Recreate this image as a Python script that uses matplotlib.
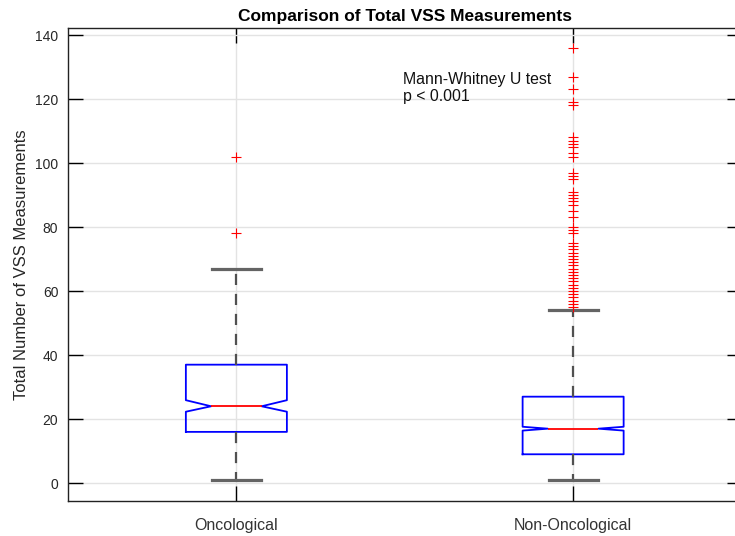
import matplotlib
matplotlib.use("Agg")
import matplotlib.pyplot as plt

plt.rcParams['font.family'] = ['Liberation Sans', 'DejaVu Sans']

# ---- data ----
groups = ['Oncological', 'Non-Oncological']
q1 = [16, 9]
med = [24, 17]
q3 = [37, 27]
whislo = [1, 1]
whishi = [67, 54]
cilo = [22.3, 16.4]
cihi = [25.9, 17.6]
fliers_onc = [102, 78]
fliers_non = [136, 127, 123, 119, 118, 108, 107, 106, 105, 103, 102,
              97, 96, 95, 91, 90, 89, 88, 87, 85, 83, 80, 79, 78,
              75, 74, 73, 72, 71, 70, 69, 68, 67, 66, 65, 64, 63, 62,
              61, 60, 59, 58, 57, 56, 55]
fliers = [fliers_onc, fliers_non]
annot = 'Mann-Whitney U test\np < 0.001'

stats = []
for i, g in enumerate(groups):
    stats.append(dict(label=g, q1=q1[i], med=med[i], q3=q3[i],
                      whislo=whislo[i], whishi=whishi[i],
                      cilo=cilo[i], cihi=cihi[i], fliers=fliers[i]))

fig = plt.figure(figsize=(7.35, 5.36), dpi=100)
ax = fig.add_axes([68 / 735, 35 / 536, 673.5 / 735, 473 / 536])

ax.bxp(stats, positions=[1, 2], widths=0.3, capwidths=0.146,
       shownotches=True, patch_artist=False,
       boxprops=dict(color='#0000ff', linewidth=1.3),
       medianprops=dict(color='#ff0000', linewidth=1.3),
       whiskerprops=dict(color='#505050', linewidth=1.6, linestyle=(0, (5, 4))),
       capprops=dict(color='#646464', linewidth=2.3),
       flierprops=dict(marker='+', color='#ff0000', markeredgecolor='#ff0000',
                       markerfacecolor='#ff0000', markersize=6.5,
                       markeredgewidth=0.8, linestyle='none', zorder=3))

ax.set_xlim(0.5, 2.5)
ax.set_ylim(-5.6, 142.2)
ax.set_yticks(range(0, 141, 20))
ax.set_xticks([1, 2])
ax.set_xticklabels(groups)

ax.grid(True, color='#e3e3e3', linewidth=1)
ax.set_axisbelow(True)

ax.tick_params(axis='both', direction='in', length=11, width=1,
               top=True, right=True, labelsize=10, labelcolor='#262626')
ax.tick_params(axis='y', pad=7)
ax.tick_params(axis='x', pad=12, labelsize=11.5, labelcolor='#333333')
for s in ax.spines.values():
    s.set_linewidth(1)
    s.set_color('#222222')

ax.set_ylabel('Total Number of VSS Measurements', fontsize=12, color='#262626')
ax.set_title('Comparison of Total VSS Measurements', fontsize=12.5,
             fontweight='bold', pad=5)
ax.text(1.494, 128.5, annot, fontsize=11.4, color='#111111',
        va='top', ha='left', linespacing=1.15)

fig.savefig('out.png', dpi=100)
